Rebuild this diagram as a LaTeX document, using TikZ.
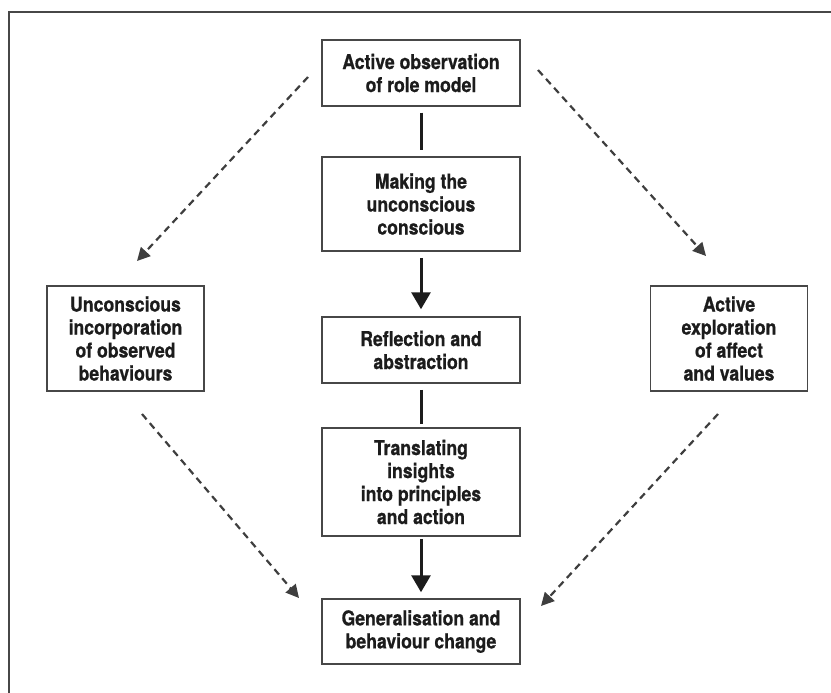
\documentclass[tikz,border=0pt]{standalone}
\usepackage{fontspec}
\setmainfont{TeX Gyre Heros}[FakeStretch=0.86,
  BoldFeatures={FakeStretch=0.86, FakeBold=0.7}]
\usetikzlibrary{arrows.meta}
\definecolor{ink}{HTML}{1C1C1C}
\definecolor{rule}{HTML}{474747}
\begin{document}
\begin{tikzpicture}[x=1pt,y=-1pt,
  stepbox/.style={draw=rule, line width=1.5pt, fill=white, text=ink,
    align=center, inner sep=0pt, minimum width=198pt,
    font=\fontsize{20.5}{23}\selectfont\bfseries},
  sidebox/.style={stepbox, minimum width=157pt, minimum height=105pt},
  link/.style={draw=ink, line width=3pt},
  flow/.style={link, -{Triangle[width=19pt,length=17pt]}},
  hint/.style={draw=ink!85, line width=2.2pt, dash pattern=on 7pt off 5pt,
    -{Triangle[width=13pt,length=13pt]}}]
  \useasboundingbox (0,0) rectangle (831,693);
  % open frame: top and left edges only
  \draw[rule, line width=2.2pt] (9,693) -- (9,12) -- (831,12);

  % central column
  \node[stepbox, minimum height=66pt]  (obs)   at (421,73)    {Active observation\\of role model};
  \node[stepbox, minimum height=94pt]  (make)  at (421,204)   {Making the\\unconscious\\conscious};
  \node[stepbox, minimum height=66pt]  (refl)  at (421,350)   {Reflection and\\abstraction};
  \node[stepbox, minimum height=108pt] (trans) at (421,482)   {Translating\\insights\\into principles\\and action};
  \node[stepbox, minimum height=65pt]  (gen)   at (421,631.5) {Generalisation and\\behaviour change};

  % side boxes
  \node[sidebox] (uninc) at (125.5,338.5) {Unconscious\\incorporation\\of observed\\behaviours};
  \node[sidebox] (explo) at (729,338.5)   {Active\\exploration\\of affect\\and values};

  % central connectors
  \draw[link, shorten <=6pt, shorten >=6pt] (obs) -- (make);
  \draw[flow, shorten <=6pt, shorten >=7pt] (make) -- (refl);
  \draw[link, shorten <=6pt, shorten >=3pt] (refl) -- (trans);
  \draw[flow, shorten <=2pt, shorten >=6pt] (trans) -- (gen);

  % dashed side paths
  \coordinate (tl0) at (308,77);  \coordinate (tl1) at (137,261);
  \coordinate (tr0) at (538,70);  \coordinate (tr1) at (706,256);
  \coordinate (bl0) at (142,414); \coordinate (bl1) at (299,598);
  \coordinate (br0) at (718,414); \coordinate (br1) at (541,606);
  \draw[hint] (tl0) -- (tl1);
  \draw[hint] (tr0) -- (tr1);
  \draw[hint] (bl0) -- (bl1);
  \draw[hint] (br0) -- (br1);
\end{tikzpicture}
\end{document}
